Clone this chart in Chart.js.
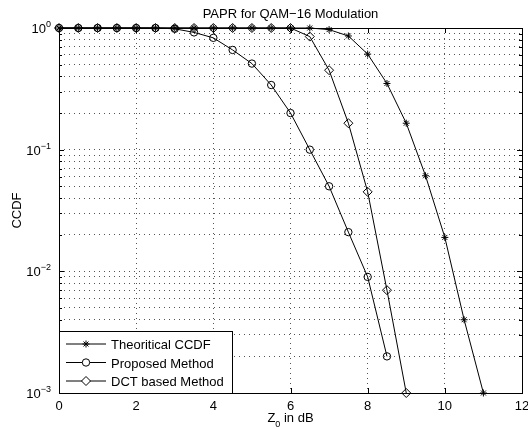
<!DOCTYPE html>
<html>
<head>
<meta charset="utf-8">
<script src="https://cdn.jsdelivr.net/npm/chart.js@4.4.0/dist/chart.umd.min.js"></script>
<style>
  html, body { margin: 0; padding: 0; background: #fff; }
  #caixa { width: 528px; height: 429px; }
</style>
</head>
<body>
<div id="caixa"><canvas id="grafico" width="528" height="429"></canvas></div>
<script>
// valores (eixo x em dB, eixo y CCDF)
var z_db = [0, 0.5, 1, 1.5, 2, 2.5, 3, 3.5, 4, 4.5, 5, 5.5, 6, 6.5, 7, 7.5, 8, 8.5, 9, 9.5, 10, 10.5, 11];
var ccdf_teorico = [1, 1, 1, 1, 1, 1, 1, 1, 1, 1, 1, 1, 1, 1, 0.97, 0.86, 0.61, 0.35, 0.165, 0.061, 0.019, 0.004, 0.001];
var ccdf_proposto = [1, 1, 1, 1, 1, 1, 0.985, 0.92, 0.83, 0.66, 0.51, 0.34, 0.20, 0.10, 0.050, 0.021, 0.009, 0.002];
var ccdf_dct = [1, 1, 1, 1, 1, 1, 1, 1, 1, 1, 1, 1, 1, 0.85, 0.45, 0.165, 0.045, 0.007, 0.001];

var nomes = ['Theoritical CCDF', 'Proposed Method', 'DCT based Method'];
var ticks_x = [0, 2, 4, 6, 8, 10, 12];
var ticks_y = [0.001, 0.01, 0.1, 1];
var expoentes = ['\u22123', '\u22122', '\u22121', '0'];

var titulo = 'PAPR for QAM\u221216 Modulation';
var fonte = '"Liberation Sans", Arial, Helvetica, sans-serif';

function pares(lista) {
    var saida = [];
    for (var i = 0; i < lista.length; i++) {
        saida.push({ x: z_db[i], y: lista[i] });
    }
    return saida;
}

// todas as marcas do eixo log (1..9 x 10^k)
function marcasLog() {
    var m = [];
    for (var k = -3; k < 0; k++) {
        for (var j = 1; j < 10; j++) {
            m.push({ value: j * Math.pow(10, k), major: j == 1 });
        }
    }
    m.push({ value: 1, major: true });
    return m;
}

function desenharMarcador(ctx, estilo, x, y) {
    ctx.save();
    ctx.strokeStyle = '#000';
    ctx.lineWidth = 1;
    ctx.beginPath();
    if (estilo == 'star') {
        var r = 3.5;
        for (var a = 0; a < 4; a++) {
            var ang = a * Math.PI / 4;
            ctx.moveTo(x - r * Math.cos(ang), y - r * Math.sin(ang));
            ctx.lineTo(x + r * Math.cos(ang), y + r * Math.sin(ang));
        }
    } else if (estilo == 'circle') {
        ctx.fillStyle = '#fff';
        ctx.arc(x, y, 3.7, 0, Math.PI * 2);
        ctx.fill();
    } else {
        ctx.fillStyle = '#fff';
        ctx.moveTo(x, y - 4.5);
        ctx.lineTo(x + 4.5, y);
        ctx.lineTo(x, y + 4.5);
        ctx.lineTo(x - 4.5, y);
        ctx.closePath();
        ctx.fill();
    }
    ctx.stroke();
    ctx.restore();
}

// moldura, marcas, textos e legenda no estilo do matlab
var estiloMatlab = {
    id: 'estiloMatlab',
    beforeDatasetsDraw: function (chart) {
        var ctx = chart.ctx;
        var a = chart.chartArea;
        ctx.save();
        ctx.strokeStyle = '#000';
        ctx.lineWidth = 1;
        ctx.strokeRect(Math.round(a.left) + 0.5, Math.round(a.top) + 0.5, Math.round(a.right - a.left), Math.round(a.bottom - a.top));
        ctx.restore();
    },
    afterDraw: function (chart) {
        var ctx = chart.ctx;
        var a = chart.chartArea;
        var sx = chart.scales.x;
        var sy = chart.scales.y;
        ctx.save();
        ctx.strokeStyle = '#000';
        ctx.lineWidth = 1;

        // marcas para dentro
        ctx.beginPath();
        ticks_x.forEach(function (v) {
            var px = Math.round(sx.getPixelForValue(v)) + 0.5;
            ctx.moveTo(px, a.bottom);
            ctx.lineTo(px, a.bottom - 5);
            ctx.moveTo(px, a.top);
            ctx.lineTo(px, a.top + 5);
        });
        marcasLog().forEach(function (t) {
            var py = Math.round(sy.getPixelForValue(t.value)) + 0.5;
            var tam = t.major ? 5 : 3;
            ctx.moveTo(a.left, py);
            ctx.lineTo(a.left + tam, py);
            ctx.moveTo(a.right, py);
            ctx.lineTo(a.right - tam, py);
        });
        ctx.stroke();

        ctx.fillStyle = '#000';
        // rotulos do eixo x
        ctx.font = '13px ' + fonte;
        ctx.textAlign = 'center';
        ctx.textBaseline = 'alphabetic';
        ticks_x.forEach(function (v) {
            ctx.fillText(String(v), sx.getPixelForValue(v), a.bottom + 17);
        });

        // rotulos do eixo y (10 com expoente)
        ticks_y.forEach(function (v, i) {
            var py = sy.getPixelForValue(v);
            ctx.font = '9px ' + fonte;
            ctx.textAlign = 'left';
            var wExp = ctx.measureText(expoentes[i]).width;
            var xExp = a.left - 8 - wExp;
            ctx.fillText(expoentes[i], xExp, py - 1);
            ctx.font = '13px ' + fonte;
            ctx.textAlign = 'right';
            ctx.fillText('10', xExp, py + 5);
        });

        // titulo
        ctx.font = '13px ' + fonte;
        ctx.textAlign = 'center';
        ctx.fillText(titulo, (a.left + a.right) / 2, 18);

        // titulo do eixo x com subscrito
        var xc = (a.left + a.right) / 2;
        ctx.textAlign = 'left';
        var wZ = ctx.measureText('Z').width;
        var wResto = ctx.measureText(' in dB').width;
        ctx.font = '9px ' + fonte;
        var wSub = ctx.measureText('0').width;
        var x0 = xc - (wZ + wSub + wResto) / 2;
        ctx.font = '13px ' + fonte;
        ctx.fillText('Z', x0, 422);
        ctx.font = '9px ' + fonte;
        ctx.fillText('0', x0 + wZ, 427);
        ctx.font = '13px ' + fonte;
        ctx.fillText(' in dB', x0 + wZ + wSub, 422);

        // titulo do eixo y
        ctx.save();
        ctx.translate(21, (a.top + a.bottom) / 2);
        ctx.rotate(-Math.PI / 2);
        ctx.textAlign = 'center';
        ctx.fillText('CCDF', 0, 0);
        ctx.restore();

        // legenda
        var lx = Math.round(a.left) + 0.5;
        var ly = 331.5;
        var lw = 173;
        var lh = Math.round(a.bottom) - 331;
        ctx.fillStyle = '#fff';
        ctx.fillRect(lx, ly, lw, lh);
        ctx.strokeRect(lx, ly, lw, lh);
        var linhas = [344, 362.5, 381];
        chart.data.datasets.forEach(function (ds, i) {
            var y = linhas[i];
            ctx.beginPath();
            ctx.moveTo(a.left + 7, y);
            ctx.lineTo(a.left + 47, y);
            ctx.stroke();
            desenharMarcador(ctx, ds.pointStyle, a.left + 27, y);
            ctx.fillStyle = '#000';
            ctx.font = '13px ' + fonte;
            ctx.textAlign = 'left';
            ctx.fillText(ds.label, a.left + 52, y + 5);
        });
        ctx.restore();
    }
};

function serie(nome, dados, estilo, raio) {
    return {
        label: nome,
        data: pares(dados),
        borderColor: '#000',
        borderWidth: 1,
        pointStyle: estilo,
        pointRadius: raio,
        pointBorderColor: '#000',
        pointBorderWidth: 1,
        pointBackgroundColor: estilo == 'star' ? '#000' : 'rgba(255,255,255,0)',
        fill: false,
        tension: 0,
        clip: false
    };
}

var ctx = document.getElementById('grafico');
var Grafico = new Chart(ctx, {
    type: 'line',
    data: {
        datasets: [
            serie(nomes[0], ccdf_teorico, 'star', 3.5),
            serie(nomes[1], ccdf_proposto, 'circle', 3.7),
            serie(nomes[2], ccdf_dct, 'rectRot', 4.5)
        ]
    },
    options: {
        responsive: false,
        animation: false,
        layout: { padding: { left: 59, right: 6, top: 28, bottom: 36 } },
        plugins: {
            legend: { display: false },
            title: { display: false },
            tooltip: { enabled: false }
        },
        scales: {
            x: {
                type: 'linear',
                min: 0,
                max: 12,
                afterBuildTicks: function (s) {
                    s.ticks = ticks_x.map(function (v) { return { value: v }; });
                },
                ticks: { display: false },
                grid: { color: '#555', lineWidth: 1, drawTicks: false },
                border: { display: false, dash: [1, 4] }
            },
            y: {
                type: 'logarithmic',
                min: 0.001,
                max: 1,
                afterBuildTicks: function (s) {
                    s.ticks = marcasLog();
                },
                ticks: { display: false },
                grid: { color: '#555', lineWidth: 1, drawTicks: false },
                border: { display: false, dash: [1, 4] }
            }
        }
    },
    plugins: [estiloMatlab]
});
</script>
</body>
</html>
